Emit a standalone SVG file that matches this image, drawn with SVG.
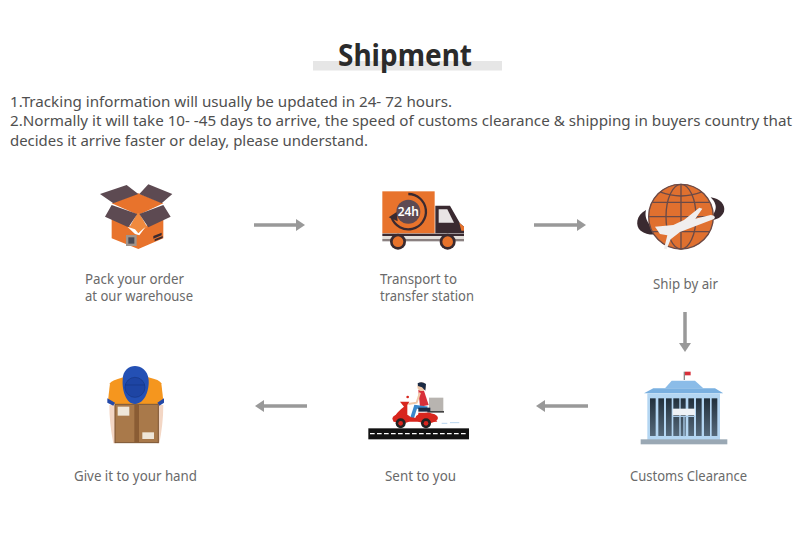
<svg xmlns="http://www.w3.org/2000/svg" width="800" height="539" viewBox="0 0 800 539">
<style>
text{font-family:"Noto Sans","Open Sans","Liberation Sans",sans-serif}
.title{font-size:31px;font-weight:700;fill:#2b2b2b}
.para{font-size:15px;fill:#4f4f4f}
.lab{font-size:13.500px;fill:#6a6a6a}
.arr{stroke:#999;stroke-width:3.5;fill:none;marker-end:url(#ah)}
.or{fill:#e8732c}.dk{fill:#5d4a52}.dr{fill:#3a2a30}
.gl{fill:none;stroke:#6a4a48;stroke-width:4}
.col{fill:url(#colg)}
</style>
<defs>
<marker id="ah" markerUnits="userSpaceOnUse" markerWidth="10" markerHeight="12" refX="1" refY="6" orient="auto"><path d="M0 0L9 6L0 12z" fill="#999"/></marker>
<linearGradient id="colg" x1="0" y1="0" x2="0" y2="1"><stop offset="0" stop-color="#22303c"/><stop offset="1" stop-color="#55697a"/></linearGradient>
</defs>
<rect width="800" height="539" fill="#fff"/>
<g id="header">
<rect x="313" y="61" width="189" height="9.500" fill="#e6e6e6"/>
<text class="title" x="338" y="66" textLength="134" lengthAdjust="spacingAndGlyphs">Shipment</text>
<text class="para" x="10" y="107" textLength="442" lengthAdjust="spacingAndGlyphs">1.Tracking information will usually be updated in 24- 72 hours.</text>
<text class="para" x="10" y="126" textLength="782" lengthAdjust="spacingAndGlyphs">2.Normally it will take 10- -45 days to arrive, the speed of customs clearance &amp; shipping in buyers country that</text>
<text class="para" x="10" y="146" textLength="358" lengthAdjust="spacingAndGlyphs">decides it arrive faster or delay, please understand.</text>
</g>
<g id="connectors">
<path class="arr" d="M254 225H297"/>
<path class="arr" d="M534 225H578"/>
<path class="arr" d="M685 312V344"/>
<path class="arr" d="M588 406H544"/>
<path class="arr" d="M307 406H263"/>
</g>
<g id="node-pack">
<g transform="translate(80 170) scale(.3333)">
<path class="or" d="M95 100L175 70L250 100L175 135z"/>
<path class="dk" d="M60 72L140 45L175 72L100 100zM178 72L205 43L277 72L245 100z"/>
<path class="or" d="M95 140L175 180V237L95 205zM175 180L250 140V205L175 237z"/>
<path fill="#f08a3e" d="M172 130L148 172L175 188L202 172L178 130z"/>
<path class="dk" d="M95 105L172 132L145 172L75 140zM178 132L250 105L272 140L205 172z"/>
<path fill="#fff" d="M142 170L165 178L175 190L188 178L196 172L178 196L165 192z"/>
<rect x="138" y="195" width="32" height="33" fill="#a0948c"/>
<rect x="145" y="202" width="18" height="19" fill="#4a4a55"/>
<path d="M220 198L245 188V196L220 206zM224 208L248 198V204L224 214z" fill="#3a2a30"/>
</g>
<text class="lab" x="85" y="284" textLength="99" lengthAdjust="spacingAndGlyphs">Pack your order</text>
<text class="lab" x="85" y="301" textLength="108" lengthAdjust="spacingAndGlyphs">at our warehouse</text>
</g>
<g id="node-transport">
<g transform="translate(360 170) scale(.3333)">
<rect class="or" x="67" y="64" width="157" height="126"/>
<circle cx="145" cy="125" r="36" class="dk"/>
<path d="M145 72A53 53 0 1 1 95 143" fill="none" stroke="#3a2a30" stroke-width="7"/>
<path d="M86 142L110 126L113 154z" fill="#3a2a30"/>
<path class="dr" d="M226 107H270L300 160L312 170V190H226z"/>
<path fill="#e8e4e4" d="M236 118H262L282 158H236z"/>
<path class="or" d="M298 158L312 170V182H304z"/>
<rect x="67" y="191" width="245" height="7" fill="#3a2a30"/>
<rect x="67" y="198" width="245" height="9" fill="#e4e0dc"/>
<rect x="67" y="207" width="245" height="7" fill="#8a8080"/>
<circle cx="114" cy="215" r="24" class="dr"/><circle cx="114" cy="215" r="16" class="or"/>
<circle cx="263" cy="215" r="24" class="dr"/><circle cx="263" cy="215" r="16" class="or"/>
<text x="145" y="139" font-size="38" font-weight="600" fill="#fff" text-anchor="middle" textLength="64" lengthAdjust="spacingAndGlyphs">24h</text>
</g>
<text class="lab" x="380" y="284" textLength="77" lengthAdjust="spacingAndGlyphs">Transport to</text>
<text class="lab" x="380" y="301" textLength="94" lengthAdjust="spacingAndGlyphs">transfer station</text>
</g>
<g id="node-air">
<g transform="translate(620 170) scale(.3333)">
<path class="dr" d="M78 120C48 135 45 168 62 182C78 195 100 195 118 192L92 168C78 152 74 136 78 120z"/>
<path class="dr" d="M272 82C300 85 318 105 312 125C305 142 292 148 270 152L284 125C292 110 285 95 272 82z"/>
<circle cx="183" cy="140" r="98" fill="#e0702f"/>
<g class="gl">
<circle cx="183" cy="140" r="97"/>
<ellipse cx="183" cy="140" rx="45" ry="97"/>
<path d="M183 43V237M97 97H269M86 140H280M97 185H269"/>
<path d="M120 66Q183 90 246 66"/>
</g>
<path fill="#f0eeee" d="M105 170L160 165L192 150L238 113L247 116L226 146L272 135C284 136 288 142 282 147L180 186L152 208L140 238L132 236L142 196L120 192z"/>
</g>
<text class="lab" x="653" y="289" textLength="65" lengthAdjust="spacingAndGlyphs">Ship by air</text>
</g>
<g id="node-customs">
<g transform="translate(620 360) scale(.3333)">
<rect x="191" y="35" width="4" height="25" fill="#8a8a8a"/>
<path d="M195 35H212V46H195z" fill="#d8303a"/>
<path d="M135 85L155 62H225L250 85z" fill="#8bbce8"/>
<path d="M72 100L100 85H285L310 100z" fill="#7ab0e0"/>
<rect x="82" y="100" width="218" height="140" fill="#b4d6f2"/>
<g class="col">
<rect x="90" y="115" width="17" height="113"/><rect x="115" y="115" width="17" height="113"/><rect x="138" y="115" width="17" height="113"/><rect x="160" y="115" width="18" height="113"/><rect x="182" y="115" width="15" height="113"/><rect x="205" y="115" width="17" height="113"/><rect x="228" y="115" width="17" height="113"/><rect x="252" y="115" width="18" height="113"/><rect x="275" y="115" width="17" height="113"/>
</g>
<rect x="158" y="146" width="67" height="20" fill="#eef2f6"/>
<rect x="158" y="168" width="67" height="3" fill="#a9cbe8"/>
<rect x="190" y="168" width="4" height="62" fill="#a9cbe8"/>
<rect x="62" y="238" width="260" height="15" fill="#9aa8b4"/>
</g>
<text class="lab" x="630" y="481" textLength="117" lengthAdjust="spacingAndGlyphs">Customs Clearance</text>
</g>
<g id="node-sent">
<g transform="translate(350 360) scale(.3333)">
<rect x="55" y="205" width="302" height="33" fill="#111"/>
<path d="M60 221H352" stroke="#fff" stroke-width="4" stroke-dasharray="14 7"/>
<rect x="237" y="113" width="43" height="43" fill="#b8b4b0"/>
<rect x="232" y="153" width="50" height="5" fill="#444"/>
<path d="M205 90L222 92L236 135L210 140z" fill="#d8303a"/>
<circle cx="215" cy="80" r="13" fill="#f0c8a8"/><path d="M203 70Q215 62 228 72L226 92L216 82L204 78z" fill="#1a2a44"/>
<path d="M210 98L200 128L175 132" stroke="#f0c8a8" stroke-width="6" fill="none"/>
<path d="M232 145L197 140L185 178" stroke="#3a88cc" stroke-width="11" fill="none"/>
<rect x="205" y="143" width="36" height="12" fill="#1a2a44"/>
<path d="M150 125H178L172 135L172 170L205 175L205 158H240L262 185H130C130 165 150 150 162 140z" fill="#d8261e"/>
<ellipse cx="155" cy="176" rx="28" ry="14" fill="#d8261e"/>
<ellipse cx="230" cy="174" rx="34" ry="16" fill="#d8261e"/>
<circle cx="173" cy="111" r="4" fill="#d8261e"/>
<circle cx="152" cy="190" r="15" fill="#222"/><circle cx="152" cy="190" r="7" fill="#d8261e"/>
<circle cx="228" cy="190" r="15" fill="#222"/><circle cx="228" cy="190" r="7" fill="#d8261e"/>
<path d="M275 190H292M300 188H328" stroke="#b8d4ee" stroke-width="3"/>
</g>
<text class="lab" x="385" y="481" textLength="71" lengthAdjust="spacingAndGlyphs">Sent to you</text>
</g>
<g id="node-hand">
<g transform="translate(70 360) scale(.3333)">
<path d="M118 135H138V250H130C122 210 118 170 118 135zM262 135H280C280 175 275 215 268 250H262z" fill="#f3d6c4"/>
<path d="M120 70Q122 62 160 52H235Q270 60 274 70L280 122L268 132H130L114 122z" fill="#f5961e"/>
<path d="M112 115L135 128L130 137L112 128zM282 115L262 128L268 137L282 128z" fill="#2348a8"/>
<rect x="135" y="133" width="130" height="115" fill="#a9794a" stroke="#7a5230" stroke-width="3"/>
<rect x="193" y="135" width="14" height="112" fill="#8a5c34"/>
<rect x="143" y="140" width="35" height="27" fill="#efe6d8"/>
<rect x="217" y="217" width="35" height="20" fill="#efe6d8"/>
<path d="M158 60C158 30 178 18 195 18C212 18 234 30 236 60C238 85 228 130 195 132C168 132 156 90 158 60z" fill="#2450b4"/>
<circle cx="195" cy="82" r="30" fill="#1e45a4" stroke="#163684" stroke-width="2"/>
<path d="M165 75H225" stroke="#163684" stroke-width="2"/>
</g>
<text class="lab" x="74" y="481" textLength="123" lengthAdjust="spacingAndGlyphs">Give it to your hand</text>
</g>
</svg>
